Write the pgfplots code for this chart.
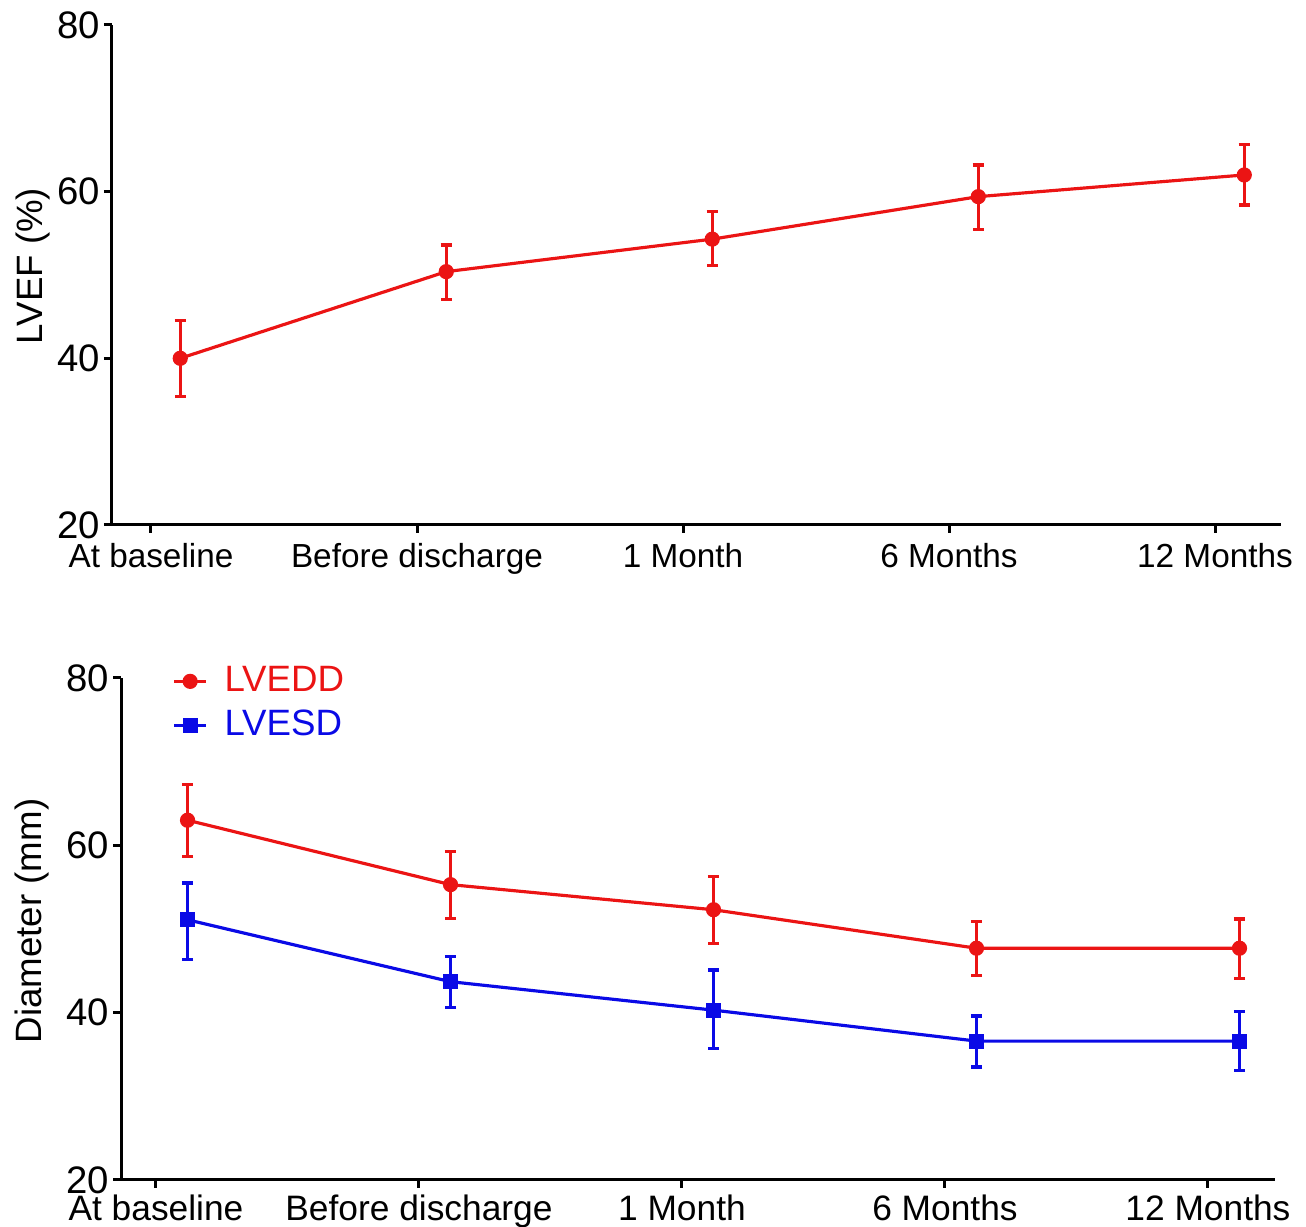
\documentclass[border=0pt]{standalone}
\usepackage{fontspec}
\setmainfont{Liberation Sans}
\usepackage{pgfplots}
\pgfplotsset{compat=1.18}
\definecolor{myred}{RGB}{235,20,20}
\definecolor{myblue}{RGB}{10,10,230}
\pgfplotsset{
  mystyle/.style={
    scale only axis,
    axis lines=left,
    axis line style={-, line width=0.9pt},
    ymin=20, ymax=80, ytick={20,40,60,80},
    xtick={0,1,2,3,4},
    xticklabels={At baseline, Before discharge, 1 Month, 6 Months, 12 Months},
    tick align=outside,
    major tick length=2.4pt,
    tick style={line width=0.9pt, black},
    /pgf/number format/assume math mode=true,
    yticklabel style={font=\fontsize{11.5}{13}\selectfont, inner sep=1pt},
    clip=false,
  },
  mybars/.style={
    line width=0.95pt,
    error bars/.cd, y dir=both, y explicit,
    error bar style={line width=0.95pt},
    error mark options={rotate=90, mark size=1.7pt, line width=0.95pt},
  },
}
\begin{document}
\begin{tikzpicture}
\useasboundingbox (0,0) rectangle (391.8pt,368.1pt);
% Top panel
\begin{axis}[mystyle,
  at={(33.6pt,210.6pt)}, anchor=south west,
  width=350.7pt, height=150pt,
  xmin=-0.1466, xmax=4.248,
  xticklabel style={font=\fontsize{10}{12}\selectfont, inner sep=3pt},
  ylabel={LVEF (\%)},
  every axis y label/.style={at={(axis description cs:-0.068,0.518)}, rotate=90, anchor=center, font=\fontsize{11}{13}\selectfont},
]
\addplot+[myred, mark=*, mark size=1.8pt, mark options={fill=myred, draw=myred}, mybars]
  table[x=x, y=y, y error plus=ep, y error minus=em] {
  x     y     ep   em
  0.11  40.0  4.5  4.6
  1.11  50.4  3.2  3.3
  2.11  54.3  3.3  3.2
  3.11  59.4  3.8  3.9
  4.11  62.0  3.7  3.6
};
\end{axis}
% Bottom panel
\begin{axis}[mystyle,
  at={(36.3pt,14.1pt)}, anchor=south west,
  width=346.2pt, height=150.6pt,
  xmin=-0.133, xmax=4.255,
  xticklabel style={font=\fontsize{10.6}{12.5}\selectfont, inner sep=2pt},
  ylabel={Diameter (mm)},
  every axis y label/.style={at={(axis description cs:-0.077,0.516)}, rotate=90, anchor=center, font=\fontsize{11}{13}\selectfont},
  legend style={draw=none, fill=none, at={(0.044,1.038)}, anchor=north west,
    font=\fontsize{11}{12.6}\selectfont, inner sep=0pt, row sep=0pt,
    nodes={inner sep=2pt}},
  legend cell align=left,
  legend image code/.code={\draw[mark repeat=2, mark phase=2] plot coordinates {(0cm,0cm) (0.17cm,0cm) (0.34cm,0cm)};},
]
\addplot+[myred, mark=*, mark size=1.8pt, mark options={fill=myred, draw=myred}, mybars]
  table[x=x, y=y, y error plus=ep, y error minus=em] {
  x     y     ep   em
  0.12  63.0  4.3  4.3
  1.12  55.3  4.0  4.0
  2.12  52.3  4.0  4.0
  3.12  47.7  3.2  3.3
  4.12  47.7  3.5  3.6
};
\addlegendentry{\hspace{3pt}\textcolor{myred}{LVEDD}}
\addplot+[myblue, mark=square*, mark size=1.8pt, mark options={fill=myblue, draw=myblue}, mybars]
  table[x=x, y=y, y error plus=ep, y error minus=em] {
  x     y     ep   em
  0.12  51.1  4.4  4.7
  1.12  43.7  3.0  3.1
  2.12  40.3  4.8  4.6
  3.12  36.6  3.0  3.1
  4.12  36.6  3.5  3.5
};
\addlegendentry{\hspace{3pt}\textcolor{myblue}{LVESD}}
\end{axis}
\end{tikzpicture}
\end{document}
